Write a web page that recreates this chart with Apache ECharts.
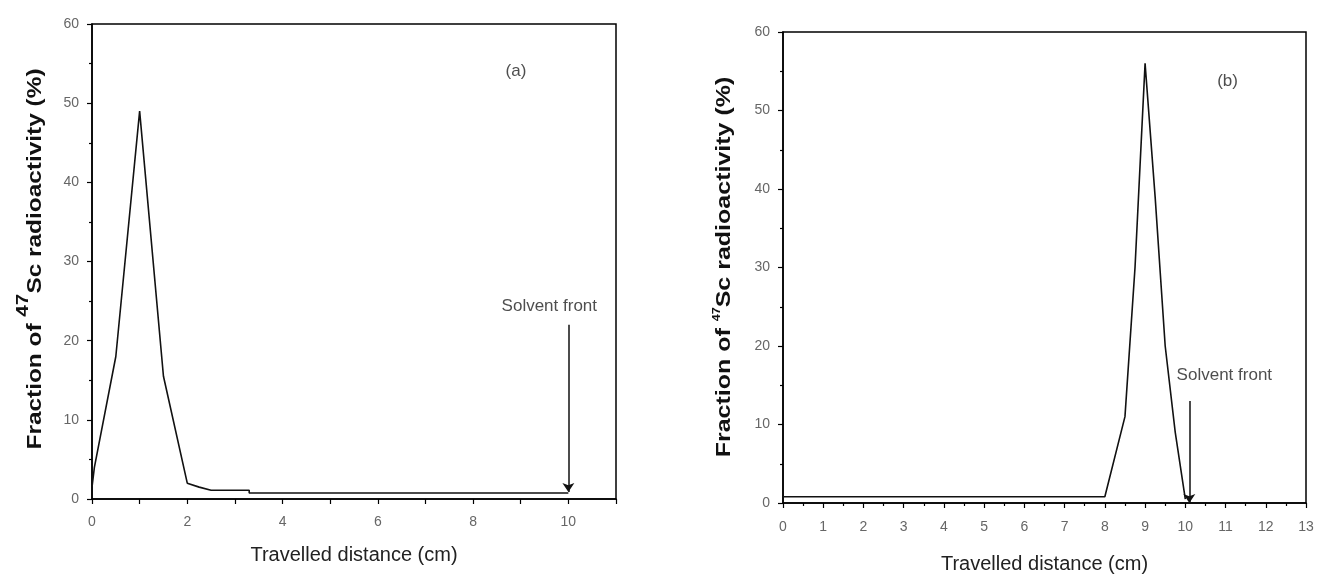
<!DOCTYPE html>
<html>
<head>
<meta charset="utf-8">
<script src="https://cdn.jsdelivr.net/npm/echarts@6/dist/echarts.min.js"></script>
<style>
html,body{margin:0;padding:0;background:#fff;}
#chart{width:1317px;height:579px;}
</style>
</head>
<body>
<div id="chart"></div>
<script>
// ---- Panel (a) data ----
const distA = [0, 0.05, 0.5, 1, 1.5, 2, 2.25, 2.5, 3.3, 3.3, 10];
const fracA = [1.5, 4, 18, 49, 15.5, 2, 1.5, 1.1, 1.1, 0.75, 0.75];
const annotTextA = ['(a)', 'Solvent front'];
const annotXA = [8.9, 9.6];
const annotYA = [54, 24.3];
const arrowXA = [10, 10];
const arrowYA = [22, 0.9];
const xTicksA = [0, 2, 4, 6, 8, 10];

// ---- Panel (b) data ----
const distB = [0, 8, 8.5, 8.75, 9, 9.25, 9.5, 9.75, 10];
const fracB = [0.8, 0.8, 11, 30, 56, 39, 20, 9, 0.5];
const annotTextB = ['(b)', 'Solvent front'];
const annotXB = [11.05, 10.97];
const annotYB = [53.7, 16.3];
const arrowXB = [10.1, 10.1];
const arrowYB = [13, 0];

const yTitleMain = 'Fraction of ';
const yTitleSup = '47';
const yTitleRest = 'Sc radioactivity (%)';
const xTitle = 'Travelled distance (cm)';

const chart = echarts.init(document.getElementById('chart'), null, {renderer: 'canvas'});

const font = 'Liberation Sans, Arial, sans-serif';
const axisLine = {show: true, onZero: false, lineStyle: {color: '#000', width: 1.5}};
const axisLabelStyle = {color: '#666', fontSize: 14, fontFamily: font};

function pairs(xs, ys) { return xs.map((x, i) => [x, ys[i]]); }
function annots(texts, xs, ys) { return texts.map((t, i) => ({name: t, value: [xs[i], ys[i]]})); }

function yAxisCfg(gridIndex) {
  return {
    type: 'value', gridIndex, min: 0, max: 60, interval: 10,
    axisLine, splitLine: {show: false},
    axisTick: {show: true, length: 5, lineStyle: {color: '#000', width: 1.2}},
    minorTick: {show: true, splitNumber: 2, length: 3, lineStyle: {color: '#000', width: 1.2}},
    axisLabel: Object.assign({margin: 13}, axisLabelStyle)
  };
}

function arrowLine(xs, ys) {
  return {
    silent: true,
    symbol: ['none', 'arrow'],
    symbolSize: 9,
    lineStyle: {color: '#111', width: 1.5, type: 'solid'},
    itemStyle: {color: '#111'},
    label: {show: false},
    data: [[
      {coord: [xs[0], ys[0]], symbol: 'none'},
      {coord: [xs[1], ys[1]], symbol: 'arrow', symbolSize: 9}
    ]]
  };
}

const option = {
  backgroundColor: '#fff',
  animation: false,
  grid: [
    {left: 92, top: 24, width: 524, height: 475, show: true, borderColor: '#000', borderWidth: 1.5, backgroundColor: 'transparent'},
    {left: 783, top: 32, width: 523, height: 475, show: true, borderColor: '#000', borderWidth: 1.5, backgroundColor: 'transparent'}
  ],
  xAxis: [
    {
      type: 'value', gridIndex: 0, min: 0, max: 11, interval: 1,
      axisLine, splitLine: {show: false},
      axisTick: {show: true, length: 5, lineStyle: {color: '#000', width: 1.2}},
      axisLabel: Object.assign({
        margin: 16,
        formatter: v => (xTicksA.indexOf(v) >= 0 ? String(v) : '')
      }, axisLabelStyle),
      name: xTitle, nameLocation: 'middle', nameGap: 46,
      nameTextStyle: {color: '#222', fontSize: 20, fontFamily: font}
    },
    {
      type: 'value', gridIndex: 1, min: 0, max: 13, interval: 1,
      axisLine, splitLine: {show: false},
      axisTick: {show: true, length: 5, lineStyle: {color: '#000', width: 1.2}},
      minorTick: {show: true, splitNumber: 2, length: 3, lineStyle: {color: '#000', width: 1.2}},
      axisLabel: Object.assign({margin: 17}, axisLabelStyle),
      name: xTitle, nameLocation: 'middle', nameGap: 51,
      nameTextStyle: {color: '#222', fontSize: 20, fontFamily: font}
    }
  ],
  yAxis: [yAxisCfg(0), yAxisCfg(1)],
  series: [
    {
      type: 'line', xAxisIndex: 0, yAxisIndex: 0, data: pairs(distA, fracA),
      symbol: 'none', lineStyle: {color: '#111', width: 1.6}, silent: true,
      markLine: arrowLine(arrowXA, arrowYA)
    },
    {
      type: 'line', xAxisIndex: 1, yAxisIndex: 1, data: pairs(distB, fracB),
      symbol: 'none', lineStyle: {color: '#111', width: 1.6}, silent: true,
      markLine: arrowLine(arrowXB, arrowYB)
    },
    {
      type: 'scatter', xAxisIndex: 0, yAxisIndex: 0, symbolSize: 0, silent: true,
      data: annots(annotTextA, annotXA, annotYA),
      label: {show: true, position: 'inside', formatter: p => p.name, color: '#222', fontSize: 17, fontFamily: font}
    },
    {
      type: 'scatter', xAxisIndex: 1, yAxisIndex: 1, symbolSize: 0, silent: true,
      data: annots(annotTextB, annotXB, annotYB),
      label: {show: true, position: 'inside', formatter: p => p.name, color: '#222', fontSize: 17, fontFamily: font}
    }
  ],
  graphic: [
    {
      type: 'text', x: 30, y: 259, rotation: Math.PI / 2, scaleX: 1.22, silent: true,
      style: {
        text: '{n|' + yTitleMain + '}{s|' + yTitleSup + '}{n|' + yTitleRest + '}',
        align: 'center', verticalAlign: 'middle',
        rich: {
          n: {fontSize: 20, fontWeight: 'bold', fontFamily: font, fill: '#111', lineHeight: 30, verticalAlign: 'bottom'},
          s: {fontSize: 17, fontWeight: 'bold', fontFamily: font, fill: '#111', lineHeight: 16, verticalAlign: 'top'}
        }
      }
    },
    {
      type: 'text', x: 723, y: 267, rotation: Math.PI / 2, scaleX: 1.25, silent: true,
      style: {
        text: '{n|' + yTitleMain + '}{s|' + yTitleSup + '}{n|' + yTitleRest + '}',
        align: 'center', verticalAlign: 'middle',
        rich: {
          n: {fontSize: 20, fontWeight: 'bold', fontFamily: font, fill: '#111', lineHeight: 22, verticalAlign: 'bottom'},
          s: {fontSize: 10, fontWeight: 'bold', fontFamily: font, fill: '#111', lineHeight: 10, verticalAlign: 'top'}
        }
      }
    }
  ]
};

chart.setOption(option);
</script>
</body>
</html>
